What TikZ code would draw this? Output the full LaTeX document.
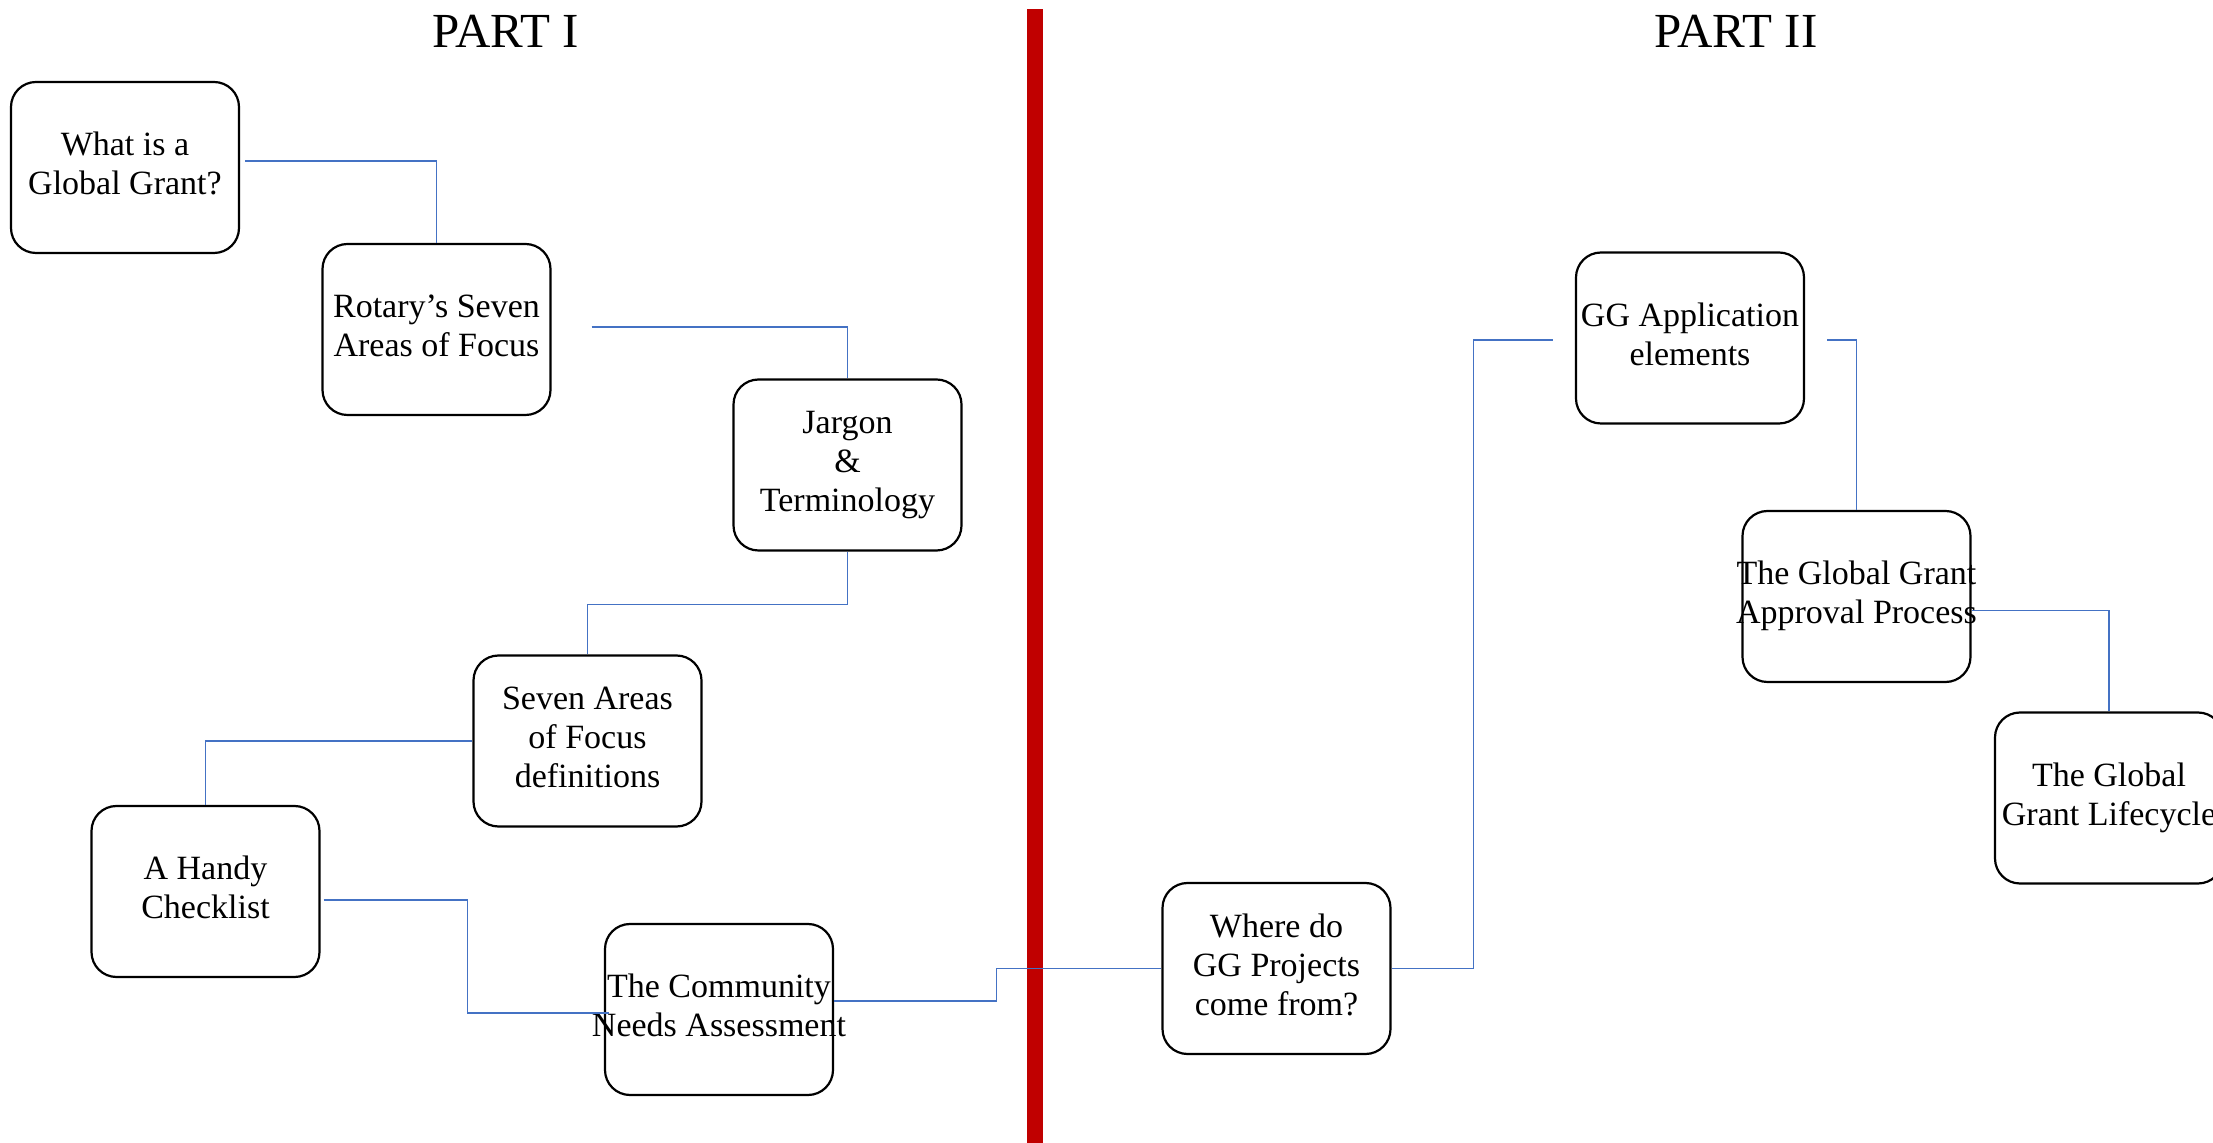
\documentclass[tikz,border=0pt]{standalone}
\usepackage{fontspec}
\setmainfont{Liberation Serif}
\usetikzlibrary{calc}
\definecolor{barred}{HTML}{C00000}
\definecolor{linkblue}{HTML}{4472C4}
\newcommand{\tbtext}[1]{\makebox[0pt][c]{\begin{tabular}{@{}c@{}}#1\end{tabular}}}
\begin{document}
\begin{tikzpicture}[x=0.5pt,y=-0.5pt,
  topic/.style={draw=black, line width=1.1pt, rounded corners=12.5pt, fill=white,
    minimum width=114pt, minimum height=85.5pt, inner sep=0pt,
    font=\fontsize{17}{19.5}\selectfont},
  link/.style={draw=linkblue, line width=0.55pt},
  parttitle/.style={anchor=base, font=\fontsize{24.5}{28}\selectfont}]
\useasboundingbox (0,0) rectangle (2213,1143);
\clip (0,0) rectangle (2213,1143);
\fill[white] (0,0) rectangle (2213,1143);
% divider
\fill[barred] (1027,9) rectangle (1042.5,1143);
% titles
\node[parttitle] (p1) at (506,48) {PART I};
\node[parttitle] (p2) at (1736,48) {PART II};
% topics
\node[topic] (b1) at (125,167.5) {\tbtext{What is a\\Global Grant?}};
\node[topic] (b2) at (436.5,329.5) {\tbtext{Rotary’s Seven\\Areas of Focus}};
\node[topic] (b3) at (847.5,465) {\tbtext{Jargon\\\&\\Terminology}};
\node[topic] (b4) at (587.5,741) {\tbtext{Seven Areas\\of Focus\\definitions}};
\node[topic] (b5) at (205.5,891.5) {\tbtext{A Handy\\Checklist}};
\node[topic] (b6) at (719,1009.5) {\tbtext{The Community\\Needs Assessment}};
\node[topic] (b7) at (1276.5,968.5) {\tbtext{Where do\\GG Projects\\come from?}};
\node[topic] (b8) at (1690,338) {\tbtext{GG Application\\elements}};
\node[topic] (b9) at (1856.5,596.5) {\tbtext{The Global Grant\\Approval Process}};
\node[topic] (b10) at (2109,798) {\tbtext{The Global\\Grant Lifecycle}};
% connectors
\draw[link] ($(b1.east)+(5,-6.5)$) -| (b2.north);
\draw[link] ($(b2.east)+(40,-2.5)$) -| (b3.north);
\draw[link] (b3.south) -- ($(b3.south)+(0,53)$) -| (b4.north);
\draw[link] (b4.west) -| (b5.north);
\draw[link] ($(b5.east)+(3,8.5)$) -- ++(144,0) |- ($(b6.west)+(5,3.5)$);
\draw[link] ($(b6.east)+(0,-8.5)$) -- ++(162,0) |- (b7.west);
\draw[link] (b7.east) -- ++(82,0) |- ($(b8.west)+(-22,2)$);
\draw[link] ($(b8.east)+(22,2)$) -| (b9.north);
\draw[link] ($(b9.east)+(0,14)$) -| (b10.north);
\end{tikzpicture}
\end{document}
